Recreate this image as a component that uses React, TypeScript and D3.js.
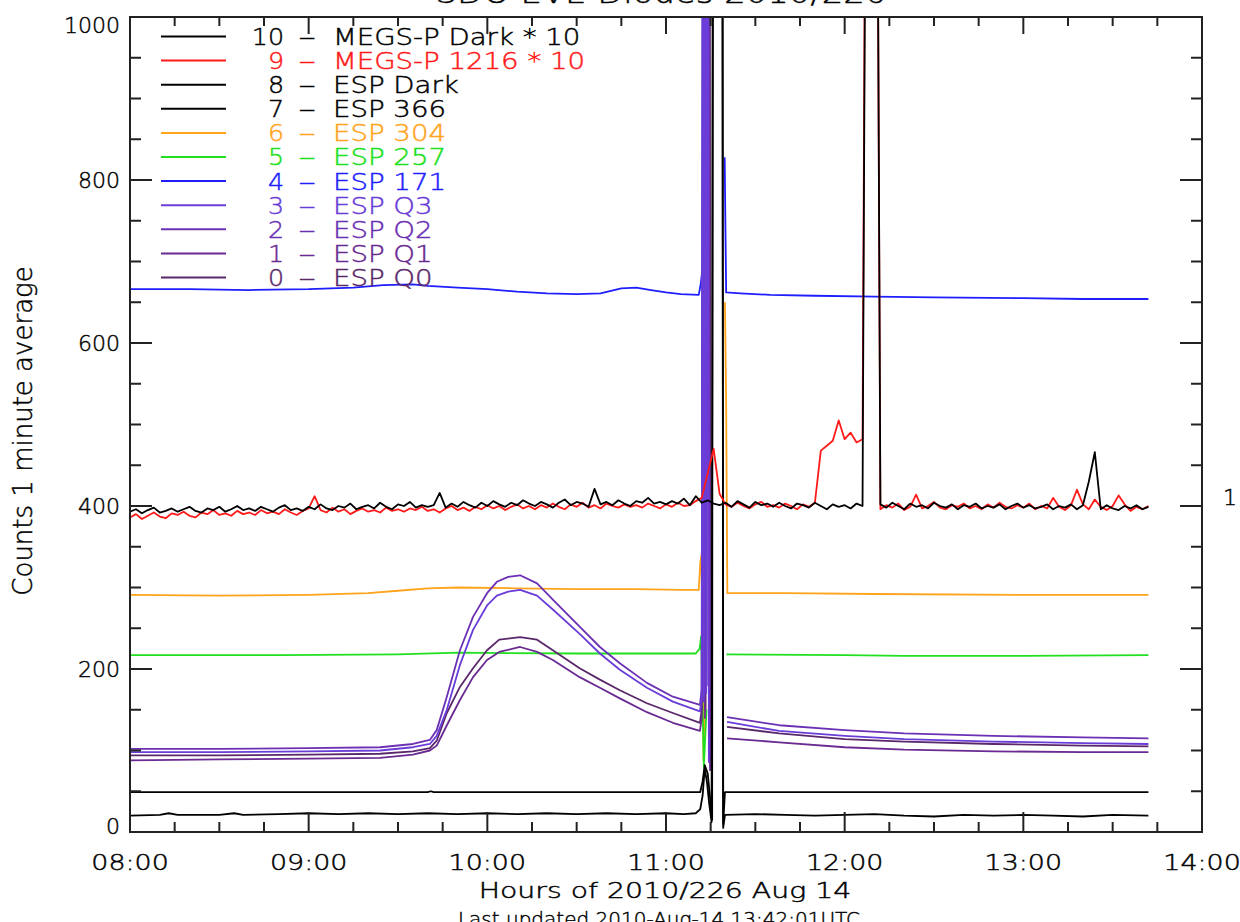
import React from 'react';
import * as d3 from 'd3';

// ---- axis definitions ----
const xTickLabels = ['08:00', '09:00', '10:00', '11:00', '12:00', '13:00', '14:00'];
const yTickValues = [0, 200, 400, 600, 800, 1000];

// ---- data (time in minutes after 08:00 UT) ----
// MEGS-P Dark * 10, one value every 2 minutes
const megsDarkVals = [
  393, 396, 391, 395, 398, 392, 394, 397, 393, 396,
  399, 394, 392, 397, 395, 399, 393, 396, 400, 395,
  397, 394, 399, 396, 393, 398, 401, 395, 397, 394,
  399, 396, 402, 397, 395, 400, 398, 403, 396, 399,
  401, 397, 404, 399, 396, 402, 400, 405, 398, 401,
  399, 401, 416, 398, 403, 399, 405, 401, 398, 404,
  400, 406, 402, 399, 404, 401, 407, 403, 400, 405,
  402, 398, 404, 408, 401, 405, 403, 399, 421, 402,
  405, 401, 407, 403, 400, 406, 404, 410, 403, 405,
  402, 406, 403, 409, 401, 412, 404, 407, 403, 401,
  404, 399, 406, 402, 398, 405, 401, 403, 399, 404,
  400, 397, 403, 401, 398, 404, 400, 396, 402, 399,
  401, 397, 403, 400, 2000, 2000, 402, 398, 404, 400,
  396, 403, 399, 401, 397, 404, 400, 398, 402, 396,
  401, 399, 403, 397, 400, 398, 402, 396, 400, 403,
  398, 401, 397, 399, 402, 396, 400, 398, 402, 396,
  401, 430, 466, 396, 401, 397, 395, 400, 397, 401,
  396, 399,
];
// MEGS-P 1216 * 10, one value every 2 minutes
const megs1216Vals = [
  386, 390, 384, 388, 392, 387, 385, 391, 389, 393,
  388, 386, 392, 390, 395, 389, 391, 388, 394, 390,
  392, 389, 395, 391, 393, 390, 396, 392, 389, 394,
  397, 412, 395, 392, 398, 393, 396, 390, 394, 397,
  393, 395, 392, 398, 394, 396, 393, 397, 395, 399,
  394, 396, 392, 397, 400, 395, 398, 394, 399, 396,
  401, 397, 400, 395, 399, 402, 397, 400, 396, 401,
  398, 403, 399, 396, 402, 399, 404, 398, 401, 397,
  403, 400, 398, 402, 399, 401, 398, 403, 400, 397,
  402, 399, 404, 400, 401, 406, 410, 440, 470, 415,
  402, 399, 404, 400, 397, 402, 405, 399, 401, 398,
  403, 400, 396, 402, 399, 404, 468, 474, 480, 505,
  482, 490, 478, 482, 2000, 2000, 396, 401, 398, 403,
  395, 399, 414, 397, 400, 405, 398, 396, 401, 399,
  403, 397, 400, 396, 402, 398, 404, 399, 397, 401,
  398, 403, 396, 400, 397, 410, 399, 395, 401, 420,
  402, 396, 408, 399, 395, 400, 413, 402, 394, 399,
  396, 400,
];

const espDarkT = [0, 100, 101, 102, 190, 191.5, 192.3, 193, 194, 195, 195.5, 195.8, 198.8, 199.2, 199.8, 342];
const espDarkV = [49, 49, 50, 49, 49, 49, 62, 82, 72, 35, 15, 2000, 2000, 10, 49, 49];

const esp366T = [0, 10, 13, 16, 30, 35, 38, 50, 60, 70, 80, 90, 100, 110, 120, 130, 140, 150, 160, 170, 180, 186, 190, 191.5, 192.3, 193, 193.8, 194.5, 195.3, 196.2, 198.8, 199.2, 199.8, 210, 220, 230, 240, 250, 260, 270, 280, 290, 300, 310, 320, 330, 342];
const esp366V = [20, 21, 23, 21, 21, 23, 21, 22, 23, 22, 23, 22, 23, 22, 23, 22, 23, 22, 23, 22, 23, 22, 23, 28, 45, 78, 60, 35, 12, 2000, 2000, 5, 21, 22, 21, 20, 21, 22, 20, 19, 21, 20, 21, 20, 19, 21, 20];

const esp304T = [0, 30, 60, 80, 90, 100, 110, 130, 150, 170, 185, 191, 191.5, 191.9, 192.6, 193.6, 194, 199.8, 200.2, 200.6, 220, 250, 300, 342];
const esp304V = [291, 290, 291, 293, 296, 299, 300, 299, 298, 298, 297, 297, 330, 340, 88, 250, null, 650, 526, 293, 293, 292, 291, 291];

const esp257T = [0, 50, 90, 110, 150, 190, 191.3, 191.8, 192.7, 193.6, 194, 200.3, 240, 260, 300, 342];
const esp257V = [217, 217, 218, 220, 219, 219, 225, 240, 80, 150, null, 218, 217, 216, 216, 217];

const esp171T = [0, 20, 40, 60, 75, 85, 95, 100, 110, 120, 130, 140, 150, 158, 165, 170, 175, 180, 185, 191, 191.7, 192.3, 192.6, 194.3, 194.7, 195, 199.7, 200.2, 205, 215, 230, 250, 270, 300, 320, 342];
const esp171V = [666, 666, 665, 666, 668, 671, 672, 670, 668, 666, 663, 661, 660, 661, 667, 668, 665, 662, 660, 659, 673, 693, 1500, 1500, 97, null, 828, 662, 661, 659, 658, 657, 656, 655, 654, 654];

const espQ3T = [0, 30, 60, 84, 95, 100.7, 103, 106.4, 110.8, 115.2, 119.9, 123.2, 127, 131, 136.7, 142, 151, 157.8, 164.5, 173.6, 182.3, 191.4, 192, 192.3, 192.7, 193.1, 193.5, 193.9, 194.0, 194.4, 195, 200.5, 218, 240, 260, 290, 320, 342];
const espQ3V = [98, 98, 99, 100, 104, 108, 118, 150, 205, 248, 278, 290, 295, 297, 290, 273, 243, 219, 199, 177, 160, 148, 165, 1500, 160, 1500, 170, 1500, 1500, 85, null, 135, 124, 118, 114, 111, 109, 108];
const espQ2T = [0, 30, 60, 84, 95, 100.7, 103, 106.4, 110.8, 115.2, 119.9, 123.2, 127, 131, 136.7, 142, 151, 157.8, 164.5, 173.6, 182.3, 191.4, 192, 192.5, 192.9, 193.3, 193.7, 194.1, 194.2, 194.6, 195, 200.5, 218, 240, 260, 290, 320, 342];
const espQ2V = [102, 102, 103, 104, 108, 113, 125, 166, 223, 264, 293, 307, 313, 315, 305, 285, 252, 227, 207, 183, 166, 156, 175, 1500, 170, 1500, 180, 1500, 1500, 90, null, 141, 131, 125, 121, 118, 116, 115];

const espQ1T = [0, 30, 60, 84, 95, 100.7, 103, 106.4, 110.8, 115.2, 119.9, 124, 131, 136.7, 142, 151, 157.8, 164.5, 173.6, 182.3, 191.4, 192, 192.7, 193.1, 193.5, 194.4, 194.8, 195.1, 200.5, 218, 240, 260, 290, 320, 342];
const espQ1V = [88, 89, 90, 91, 95, 100, 106, 131, 162, 190, 211, 221, 227, 221, 211, 190, 177, 164, 147, 134, 124, 140, 1500, 140, 1500, 1500, 75, null, 115, 110, 104, 101, 99, 98, 98];
const espQ0T = [0, 30, 60, 84, 95, 100.7, 103, 106.4, 110.8, 115.2, 119.9, 124, 131, 136.7, 142, 151, 157.8, 164.5, 173.6, 182.3, 191.4, 192, 192.9, 193.3, 193.7, 194.6, 195.0, 195.3, 200.5, 218, 240, 260, 290, 320, 342];
const espQ0V = [94, 94, 95, 96, 99, 103, 112, 146, 178, 201, 223, 236, 239, 236, 223, 201, 187, 174, 158, 146, 134, 150, 1500, 150, 1500, 1500, 80, null, 129, 121, 114, 111, 108, 106, 105];

const twoMinTimes = megsDarkVals.map((_, i) => i * 2);

const series = [
  { num: '0', name: 'ESP Q0', color: '#5a286a', T: espQ0T, V: espQ0V },
  { num: '1', name: 'ESP Q1', color: '#6a2a92', T: espQ1T, V: espQ1V },
  { num: '2', name: 'ESP Q2', color: '#6c30b4', T: espQ2T, V: espQ2V },
  { num: '3', name: 'ESP Q3', color: '#6a3cd8', T: espQ3T, V: espQ3V },
  { num: '4', name: 'ESP 171', color: '#1e1eff', T: esp171T, V: esp171V },
  { num: '5', name: 'ESP 257', color: '#20e020', T: esp257T, V: esp257V },
  { num: '6', name: 'ESP 304', color: '#ffa41c', T: esp304T, V: esp304V },
  { num: '7', name: 'ESP 366', color: '#000000', T: esp366T, V: esp366V },
  { num: '8', name: 'ESP Dark', color: '#000000', T: espDarkT, V: espDarkV },
  { num: '9', name: 'MEGS-P 1216 * 10', color: '#ff1a1a', T: twoMinTimes, V: megs1216Vals },
  { num: '10', name: 'MEGS-P Dark * 10', color: '#000000', T: twoMinTimes, V: megsDarkVals },
];

// draw order: spectral channels first, then the Q diodes on top of them, then the black/red traces
const drawOrder = ['6', '5', '4', '0', '1', '2', '3', '7', '8', '9', '10'];

const FONT = 'DejaVu Sans, Liberation Sans, sans-serif';

function ST(props: { x: number; y: number; sx?: number; anchor?: string; size: number; color?: string; children: React.ReactNode }) {
  const { x, y, sx = 1, anchor = 'start', size, color = '#000', children } = props;
  return (
    <text transform={`translate(${x},${y}) scale(${sx},1)`} textAnchor={anchor as any} fontSize={size} fontWeight={200}
      fill={color} stroke={color} strokeWidth={0.45} fontFamily={FONT}>
      {children}
    </text>
  );
}

export default function App() {
  const L = 130, R = 1202, TOP = 17, B = 832;
  const x = d3.scaleLinear().domain([0, 360]).range([L, R]);
  const y = d3.scaleLinear().domain([0, 1000]).range([B, TOP]);

  const path = (T: number[], V: (number | null)[]) =>
    d3.line<number>()
      .defined((_, i) => V[i] !== null && V[i] !== undefined)
      .x((_, i) => x(T[i]))
      .y((_, i) => y(V[i] as number))(T) || '';

  const xMinor = d3.range(0, 361, 15);
  const yMinor = d3.range(0, 1001, 50);
  const legendRows = [...series].reverse();
  const ordered = drawOrder.map((n) => series.find((s) => s.num === n)!);

  return (
    <svg width={1240} height={922} style={{ position: 'absolute', left: 0, top: 0, background: '#fff' }}>
      <defs>
        <clipPath id="plotClip">
          <rect x={L} y={TOP} width={R - L} height={B - TOP} />
        </clipPath>
      </defs>
      <rect x={0} y={0} width={1240} height={922} fill="#fff" />

      {/* title (cut off at top) */}
      <ST x={661} y={3} sx={1.21} anchor="middle" size={28}>SDO EVE Diodes 2010/226</ST>

      {/* series */}
      <g clipPath="url(#plotClip)">
        {ordered.map((s) => (
          <path key={s.num} d={path(s.T, s.V)} fill="none" stroke={s.color} strokeWidth={1.8} strokeLinejoin="round" />
        ))}
      </g>

      {/* frame */}
      <rect x={L} y={TOP} width={R - L} height={B - TOP} fill="none" stroke="#222" strokeWidth={2} />

      {/* x ticks */}
      {xMinor.map((t) => {
        const major = t % 60 === 0;
        const len = major ? 20 : 10;
        return (
          <g key={'xt' + t} stroke="#222" strokeWidth={2}>
            <line x1={x(t)} x2={x(t)} y1={B} y2={B - len} />
            <line x1={x(t)} x2={x(t)} y1={TOP} y2={TOP + (major ? 17 : 9)} />
          </g>
        );
      })}
      {xTickLabels.map((lab, i) => (
        <ST key={lab} x={x(i * 60)} y={870} sx={1.28} anchor="middle" size={21}>{lab}</ST>
      ))}

      {/* y ticks */}
      {yMinor.map((v) => {
        const major = v % 200 === 0;
        const len = major ? 22 : 11;
        return (
          <g key={'yt' + v} stroke="#222" strokeWidth={2}>
            <line x1={L} x2={L + len} y1={y(v)} y2={y(v)} />
            <line x1={R} x2={R - len} y1={y(v)} y2={y(v)} />
          </g>
        );
      })}
      {yTickValues.map((v) => (
        <ST key={'yl' + v} x={120} y={Math.min(Math.max(y(v), 25), 826) + 8} sx={1.0} anchor="end" size={22}>{String(v)}</ST>
      ))}
      <ST x={1237} y={505} anchor="end" size={22}>1</ST>

      {/* axis titles */}
      <ST x={665} y={898} sx={1.35} anchor="middle" size={21}>Hours of 2010/226 Aug 14</ST>
      <text transform="translate(32,431) rotate(-90)" textAnchor="middle" fontSize={26} fontWeight={200} fontFamily={FONT}
        fill="#000" stroke="#000" strokeWidth={0.45}>
        Counts 1 minute average
      </text>
      <ST x={659} y={926} anchor="middle" size={20}>Last updated 2010-Aug-14 13:42:01UTC</ST>

      {/* legend */}
      {legendRows.map((s, i) => {
        const ry = 36.5 + i * 24.1;
        return (
          <g key={'lg' + s.num}>
            <line x1={161} x2={226} y1={ry} y2={ry} stroke={s.color} strokeWidth={2} />
            <ST x={284} y={ry + 8.4} sx={1.1} anchor="end" size={23} color={s.color}>{s.num}</ST>
            <ST x={307} y={ry + 8.4} sx={1.5} anchor="middle" size={23} color={s.color}>–</ST>
            <ST x={333} y={ry + 8.4} sx={1.2} size={23} color={s.color}>{s.name}</ST>
          </g>
        );
      })}
    </svg>
  );
}
